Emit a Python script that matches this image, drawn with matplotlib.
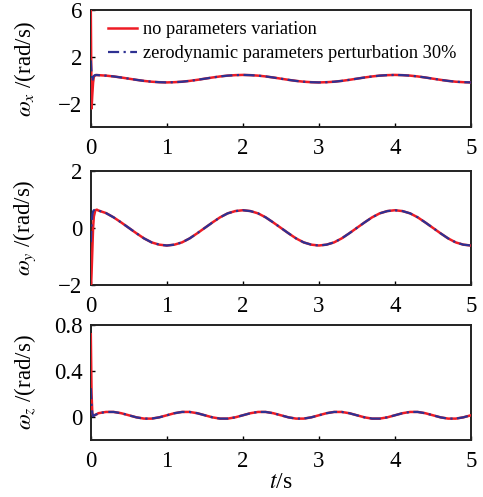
import matplotlib
matplotlib.use('Agg')
import matplotlib.pyplot as plt
import numpy as np

# time axis of the readings [s]
t_start = [0.0, 0.01, 0.02, 0.03, 0.04, 0.06, 0.08]
t_main = [0.1, 0.2, 0.3, 0.4, 0.5, 0.6, 0.7, 0.8, 0.9, 1.0,
          1.1, 1.2, 1.3, 1.4, 1.5, 1.6, 1.7, 1.8, 1.9, 2.0,
          2.1, 2.2, 2.3, 2.4, 2.5, 2.6, 2.7, 2.8, 2.9, 3.0,
          3.1, 3.2, 3.3, 3.4, 3.5, 3.6, 3.7, 3.8, 3.9, 4.0,
          4.1, 4.2, 4.3, 4.4, 4.5, 4.6, 4.7, 4.8, 4.9, 5.0]

# steady part, same for both cases
wx_main = [0.44, 0.40, 0.33, 0.24, 0.14, 0.04, -0.05, -0.12, -0.16, -0.18,
           -0.16, -0.12, -0.05, 0.04, 0.14, 0.24, 0.33, 0.40, 0.44, 0.46,
           0.44, 0.40, 0.33, 0.24, 0.14, 0.04, -0.05, -0.12, -0.16, -0.18,
           -0.16, -0.12, -0.05, 0.04, 0.14, 0.24, 0.33, 0.40, 0.44, 0.46,
           0.44, 0.40, 0.33, 0.24, 0.14, 0.04, -0.05, -0.12, -0.16, -0.18]
wy_main = [0.61, 0.52, 0.37, 0.19, 0.0, -0.19, -0.37, -0.51, -0.59, -0.62,
           -0.59, -0.51, -0.37, -0.19, 0.0, 0.19, 0.37, 0.51, 0.59, 0.62,
           0.59, 0.51, 0.37, 0.19, 0.0, -0.19, -0.37, -0.51, -0.59, -0.62,
           -0.59, -0.51, -0.37, -0.19, 0.0, 0.19, 0.37, 0.51, 0.59, 0.62,
           0.59, 0.51, 0.37, 0.19, 0.0, -0.19, -0.37, -0.51, -0.59, -0.62]
wz_main = [0.032, 0.043, 0.043, 0.032, 0.014, -0.004, -0.015, -0.015, -0.004, 0.014,
           0.032, 0.043, 0.043, 0.032, 0.014, -0.004, -0.015, -0.015, -0.004, 0.014,
           0.032, 0.043, 0.043, 0.032, 0.014, -0.004, -0.015, -0.015, -0.004, 0.014,
           0.032, 0.043, 0.043, 0.032, 0.014, -0.004, -0.015, -0.015, -0.004, 0.014,
           0.032, 0.043, 0.043, 0.032, 0.014, -0.004, -0.015, -0.015, -0.004, 0.014]

# transients over the first 0.1 s
wx_nom_start = [6.0, -2.4, -1.2, -0.2, 0.3, 0.44, 0.45]
wx_pert_start = [1.7, 0.6, -0.1, 0.2, 0.38, 0.45, 0.45]
wy_nom_start = [-2.3, -1.6, -0.8, 0.0, 0.4, 0.62, 0.64]
wy_pert_start = [-0.5, 0.1, 0.45, 0.58, 0.62, 0.64, 0.63]
wz_nom_start = [0.72, 0.2, 0.03, 0.012, 0.012, 0.018, 0.024]
wz_pert_start = [0.25, 0.1, 0.03, 0.005, 0.01, 0.018, 0.024]

labels = ['no parameters variation', 'zerodynamic parameters perturbation 30%']
ylabels = [r'$\omega_x$ /(rad/s)', r'$\omega_y$ /(rad/s)', r'$\omega_z$ /(rad/s)']
ylims = [(-4, 6), (-2, 2), (-0.2, 0.8)]
yticks = [[-2, 2, 6], [-2, 0, 2], [0, 0.4, 0.8]]
ytick_labels = [['\u22122', '2', '6'], ['\u22122', '0', '2'], ['0', '0.4', '0.8']]
xticks = [0, 1, 2, 3, 4, 5]

plt.rcParams['font.family'] = ['Liberation Serif', 'DejaVu Serif']
plt.rcParams['mathtext.fontset'] = 'stix'

fig = plt.figure(figsize=(4.83, 4.97), dpi=100)
boxes = [[0.188, 0.744, 0.787, 0.236],
         [0.188, 0.427, 0.787, 0.229],
         [0.188, 0.115, 0.787, 0.231]]

t = np.array(t_start + t_main)
nominal = [wx_nom_start + wx_main, wy_nom_start + wy_main, wz_nom_start + wz_main]
perturbed = [wx_pert_start + wx_main, wy_pert_start + wy_main, wz_pert_start + wz_main]

for i in range(3):
    ax = fig.add_axes(boxes[i])
    ax.plot(t, nominal[i], color='#ee1c25', lw=1.8, label=labels[0], zorder=3)
    ax.plot(t, perturbed[i], color='#2e3192', lw=1.6, ls=(0, (5, 2, 1, 2)),
            label=labels[1], zorder=3)
    ax.set_xlim(0, 5)
    ax.set_ylim(*ylims[i])
    ax.set_xticks(xticks)
    ax.set_yticks(yticks[i])
    ax.set_yticklabels(ytick_labels[i])
    ax.tick_params(direction='in', length=3, width=1, labelsize=16.5)
    ax.tick_params(axis='x', pad=8)
    ax.tick_params(axis='y', pad=6)
    for s in ax.spines.values():
        s.set_linewidth(1.4)
        s.set_color('#222222')
    ax.set_ylabel(ylabels[i], fontsize=16.5)
    ax.yaxis.set_label_coords(-0.14, 0.5)
    if i == 0:
        ax.legend(loc='upper left', frameon=False, fontsize=13.2, handlelength=1.6,
                  handletextpad=0.35, borderaxespad=0.2, labelspacing=0.4,
                  bbox_to_anchor=(0.015, 1.0))
    if i == 2:
        ax.set_xlabel(r'$t$/s', fontsize=17, labelpad=0)

fig.savefig('out.png', dpi=100)
